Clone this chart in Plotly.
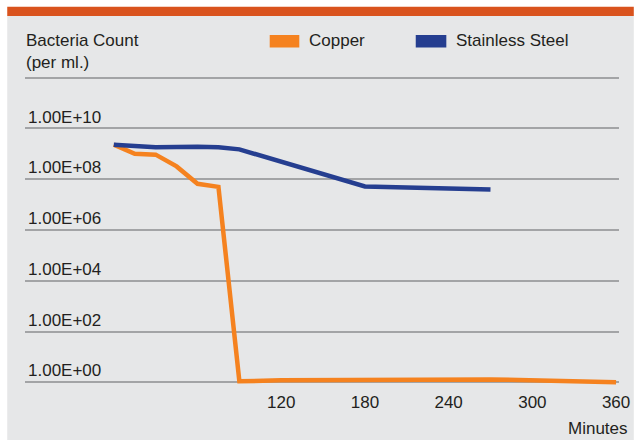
import plotly.graph_objects as go

# ---- data ----
copper_minutes = [0, 15, 30, 45, 60, 75, 90, 120, 270, 360]
copper_counts = [2.3e9, 1.0e9, 9.3e8, 3.2e8, 6.6e7, 5.0e7, 1.1, 1.2, 1.3, 1.0]

steel_minutes = [0, 30, 60, 75, 90, 180, 270]
steel_counts = [2.3e9, 1.8e9, 1.9e9, 1.8e9, 1.5e9, 5.2e7, 3.9e7]

x_ticks = [120, 180, 240, 300, 360]
y_ticks = [1e0, 1e2, 1e4, 1e6, 1e8, 1e10, 1e12]
y_ticktext = ["1.00E+00", "1.00E+02", "1.00E+04", "1.00E+06", "1.00E+08", "1.00E+10", ""]

# ---- layout constants ----
W, H = 642, 440
L, R, T, B = 25, 15, 76, 50
PW, PH = W - L - R, H - T - B

def px(x):
    return (x - L) / PW

def py(y):
    return (H - B - y) / PH

FONT = "Liberation Sans, Arial, sans-serif"
TXT = "#231F20"
ORANGE = "#F5821F"
BLUE = "#253E90"
BG = "#E6E7E8"
BAR = "#D9531E"
FS = 17

fig = go.Figure()
fig.add_trace(go.Scatter(x=copper_minutes, y=copper_counts, mode="lines",
                         line=dict(color=ORANGE, width=4.5), name="Copper"))
fig.add_trace(go.Scatter(x=steel_minutes, y=steel_counts, mode="lines",
                         line=dict(color=BLUE, width=4.5), name="Stainless Steel"))

shapes = [
    dict(type="rect", xref="paper", yref="paper", x0=px(7), x1=px(W), y0=py(H), y1=py(16),
         fillcolor=BG, line=dict(width=0), layer="below"),
    dict(type="rect", xref="paper", yref="paper", x0=px(7), x1=px(W), y0=py(16), y1=py(6.7),
         fillcolor=BAR, line=dict(width=0), layer="below"),
    dict(type="rect", xref="paper", yref="paper", x0=px(273), x1=px(303), y0=py(47.5), y1=py(35),
         fillcolor=ORANGE, line=dict(width=0)),
    dict(type="rect", xref="paper", yref="paper", x0=px(421), x1=px(452), y0=py(47.5), y1=py(35),
         fillcolor=BLUE, line=dict(width=0)),
]

annotations = [
    dict(text="Bacteria Count", xref="paper", yref="paper", x=px(24), y=py(41),
         xanchor="left", yanchor="middle", showarrow=False, font=dict(size=FS, color=TXT, family=FONT)),
    dict(text="(per ml.)", xref="paper", yref="paper", x=px(24), y=py(63),
         xanchor="left", yanchor="middle", showarrow=False, font=dict(size=FS, color=TXT, family=FONT)),
    dict(text="Copper", xref="paper", yref="paper", x=px(311), y=py(41),
         xanchor="left", yanchor="middle", showarrow=False, font=dict(size=FS, color=TXT, family=FONT)),
    dict(text="Stainless Steel", xref="paper", yref="paper", x=px(460), y=py(41),
         xanchor="left", yanchor="middle", showarrow=False, font=dict(size=FS, color=TXT, family=FONT)),
    dict(text="Minutes", xref="paper", yref="paper", x=px(638), y=py(428),
         xanchor="right", yanchor="middle", showarrow=False, font=dict(size=FS, color=TXT, family=FONT)),
]

fig.update_layout(
    width=W, height=H,
    margin=dict(l=L, r=R, t=T, b=B, pad=0),
    paper_bgcolor="white", plot_bgcolor="rgba(0,0,0,0)",
    showlegend=False,
    shapes=shapes, annotations=annotations,
    font=dict(family=FONT, size=FS, color=TXT),
)
fig.update_xaxes(range=[-63.65, 362.1], tickvals=x_ticks, ticktext=[str(v) for v in x_ticks],
                 showgrid=False, zeroline=False, showline=False, ticks="",
                 tickfont=dict(size=FS, color=TXT, family=FONT))
fig.update_yaxes(type="log", range=[-0.303, 12.067], tickvals=y_ticks, ticktext=y_ticktext,
                 showgrid=True, gridcolor="#A3A4A6", gridwidth=1.5, zeroline=False, showline=False,
                 ticks="", ticklabelposition="inside top",
                 tickfont=dict(size=FS, color=TXT, family=FONT))

fig.write_html(
    "out.html",
    config={"displayModeBar": False, "responsive": False},
    post_script=(
        "document.body.style.margin='0';"
        "document.body.style.overflow='hidden';"
        "document.documentElement.style.overflow='hidden';"
    ),
)
